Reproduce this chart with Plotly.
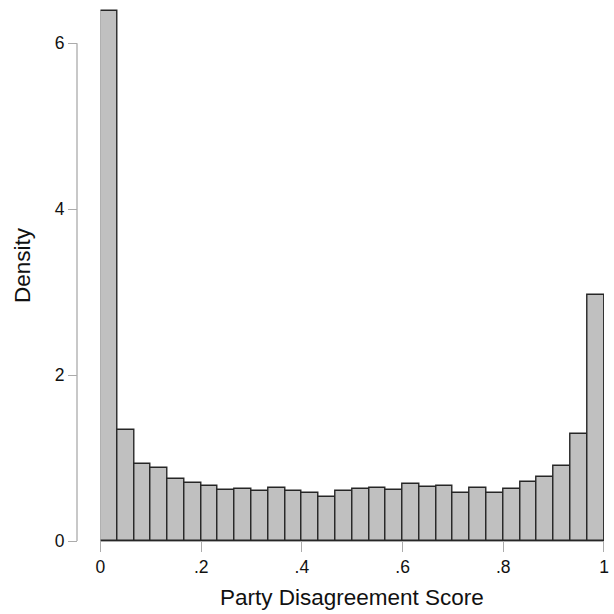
import numpy as np
import plotly.graph_objects as go

# Histogram of party disagreement scores: 30 equal-width bins on [0, 1]
bin_lo = 0.0
bin_hi = 1.0
n_bins = 30
density = [6.386, 1.335, 0.925, 0.877, 0.748, 0.700, 0.663, 0.612, 0.627, 0.608,
           0.644, 0.603, 0.579, 0.531, 0.603, 0.627, 0.639, 0.612, 0.684, 0.651,
           0.663, 0.584, 0.636, 0.575, 0.627, 0.712, 0.768, 0.905, 1.287, 2.964]

x_ticks = [0, 0.2, 0.4, 0.6, 0.8, 1]
x_tick_text = ["0", ".2", ".4", ".6", ".8", "1"]
y_ticks = [0, 2, 4, 6]
y_tick_text = ["0", "2", "4", "6"]

x_title = "Party Disagreement Score"
y_title = "Density"

edges = np.linspace(bin_lo, bin_hi, n_bins + 1)
centers = (edges[:-1] + edges[1:]) / 2
width = edges[1] - edges[0]

FONT = "Liberation Sans, Arial, Helvetica, sans-serif"
AXIS_GREY = "#ababab"

W, H = 614, 614
ml, mr, mt, mb = 77, 5, 5, 73.3
plot_w = W - ml - mr
x_start = (100.7 - ml) / plot_w  # bars begin a little right of the y axis
plot_h = H - mt - mb
px_per_unit = 82.9
y_top = plot_h / px_per_unit

fig = go.Figure()
fig.add_trace(go.Bar(
    x=centers,
    y=density,
    width=[width] * n_bins,
    marker=dict(color="#c0c0c0", line=dict(color="#262626", width=1.4)),
    hoverinfo="x+y",
))

# y axis line spans only the labelled range 0..6
fig.add_shape(type="line", xref="paper", yref="y",
              x0=0, x1=0, y0=y_ticks[0], y1=y_ticks[-1],
              line=dict(color=AXIS_GREY, width=1.3), layer="below")

fig.add_annotation(text=x_title, xref="x", yref="paper",
                   x=0.5, y=0, yshift=-56, xanchor="center", yanchor="middle",
                   showarrow=False,
                   font=dict(family=FONT, size=22.5, color="#111111"))
fig.add_annotation(text=y_title, xref="paper", yref="paper",
                   x=0, xshift=-54, y=0.515, xanchor="center", yanchor="middle",
                   textangle=-90, showarrow=False,
                   font=dict(family=FONT, size=22.5, color="#111111"))

fig.update_layout(
    width=W, height=H,
    margin=dict(l=ml, r=mr, t=mt, b=mb, pad=0),
    paper_bgcolor="white",
    plot_bgcolor="white",
    showlegend=False,
    bargap=0,
    font=dict(family=FONT, color="#111111"),
    xaxis=dict(
        domain=[x_start, 1],
        range=[bin_lo, bin_hi],
        tickmode="array", tickvals=x_ticks, ticktext=x_tick_text,
        ticks="outside", ticklen=10, tickwidth=1.3, tickcolor=AXIS_GREY,
        showline=True, linecolor=AXIS_GREY, linewidth=1.3,
        showgrid=False, zeroline=False,
        tickfont=dict(family=FONT, size=17.5, color="#111111"),
    ),
    yaxis=dict(
        range=[0, y_top],
        anchor="free", position=0,
        tickmode="array", tickvals=y_ticks, ticktext=y_tick_text,
        ticks="outside", ticklen=9, tickwidth=1.3, tickcolor=AXIS_GREY,
        showline=False, showgrid=False, zeroline=False,
        tickfont=dict(family=FONT, size=17.5, color="#111111"),
    ),
)

fig.write_html("out.html")
